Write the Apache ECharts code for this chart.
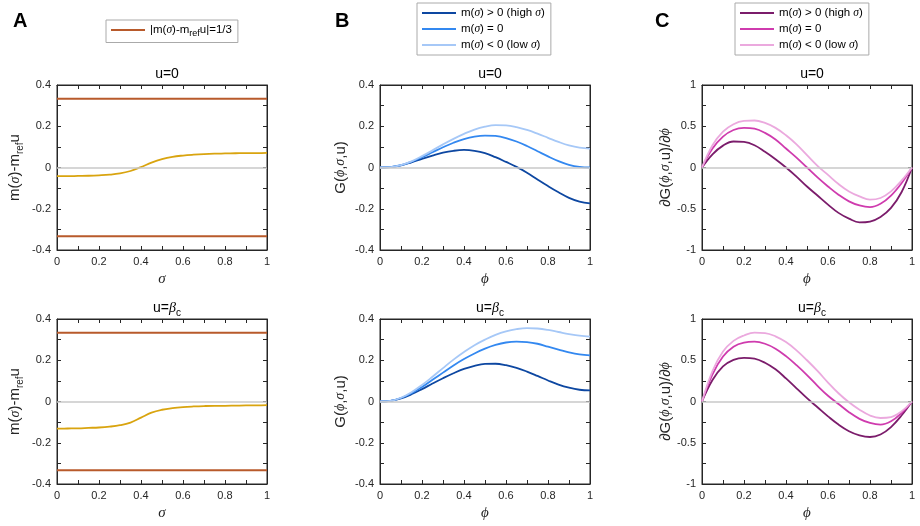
<!DOCTYPE html>
<html>
<head>
<meta charset="utf-8">
<script src="https://cdn.jsdelivr.net/npm/echarts@6/dist/echarts.min.js"></script>
<style>
  html, body { margin: 0; padding: 0; background: #fff; }
  #main { width: 920px; height: 526px; }
</style>
</head>
<body>
<div id="main"></div>
<script>
// x samples (sigma for panel A, phi for B and C)
const sigma = [0, 0.05, 0.1, 0.15, 0.2, 0.25, 0.3, 0.35, 0.4, 0.45, 0.5, 0.55, 0.6, 0.65, 0.7, 0.75, 0.8, 0.85, 0.9, 0.95, 1];
const phi = [0, 0.05, 0.1, 0.15, 0.2, 0.25, 0.3, 0.35, 0.4, 0.45, 0.5, 0.55, 0.6, 0.65, 0.7, 0.75, 0.8, 0.85, 0.9, 0.95, 1];

// panel A: m(sigma) - m_ref u
const mDiffU0 = [-0.042, -0.042, -0.041, -0.040, -0.038, -0.035, -0.029, -0.017, 0.002, 0.024, 0.041, 0.052, 0.058, 0.062, 0.065, 0.067, 0.068, 0.069, 0.070, 0.070, 0.071];
const mDiffBeta = [-0.132, -0.131, -0.130, -0.128, -0.126, -0.122, -0.115, -0.102, -0.078, -0.054, -0.040, -0.032, -0.027, -0.024, -0.022, -0.021, -0.021, -0.020, -0.019, -0.019, -0.018];
const threshold = 1 / 3;

// panel B: G(phi, sigma, u)
const gU0Hi = [0, 0.002, 0.010, 0.025, 0.042, 0.058, 0.072, 0.081, 0.085, 0.081, 0.070, 0.050, 0.027, 0.003, -0.025, -0.058, -0.090, -0.120, -0.147, -0.165, -0.174];
const gU0Mid = [0, 0.002, 0.011, 0.028, 0.050, 0.074, 0.098, 0.120, 0.138, 0.150, 0.155, 0.153, 0.143, 0.126, 0.104, 0.079, 0.054, 0.031, 0.013, 0.003, 0];
const gU0Lo = [0, 0.002, 0.012, 0.030, 0.055, 0.083, 0.112, 0.139, 0.163, 0.184, 0.198, 0.205, 0.204, 0.196, 0.182, 0.164, 0.144, 0.124, 0.107, 0.096, 0.092];
const gBetaHi = [0, 0.003, 0.015, 0.035, 0.060, 0.087, 0.113, 0.137, 0.158, 0.173, 0.182, 0.183, 0.176, 0.163, 0.145, 0.124, 0.102, 0.082, 0.067, 0.057, 0.054];
const gBetaMid = [0, 0.003, 0.017, 0.040, 0.070, 0.105, 0.140, 0.175, 0.206, 0.233, 0.256, 0.274, 0.286, 0.290, 0.288, 0.280, 0.266, 0.252, 0.238, 0.228, 0.224];
const gBetaLo = [0, 0.003, 0.018, 0.045, 0.080, 0.120, 0.162, 0.203, 0.240, 0.273, 0.300, 0.323, 0.340, 0.351, 0.356, 0.354, 0.347, 0.337, 0.327, 0.319, 0.315];

// panel C: dG/dphi
const dgU0Hi = [0, 0.16, 0.265, 0.315, 0.31, 0.27, 0.19, 0.10, 0.0, -0.11, -0.23, -0.34, -0.45, -0.55, -0.62, -0.665, -0.655, -0.60, -0.49, -0.30, 0];
const dgU0Mid = [0, 0.23, 0.375, 0.455, 0.48, 0.47, 0.42, 0.34, 0.23, 0.12, 0.0, -0.12, -0.23, -0.33, -0.41, -0.46, -0.48, -0.44, -0.34, -0.19, 0];
const dgU0Lo = [0, 0.27, 0.435, 0.525, 0.565, 0.57, 0.54, 0.48, 0.39, 0.28, 0.15, 0.02, -0.09, -0.20, -0.29, -0.35, -0.39, -0.37, -0.29, -0.16, 0];
const dgBetaHi = [0, 0.26, 0.425, 0.505, 0.53, 0.52, 0.47, 0.39, 0.28, 0.16, 0.04, -0.07, -0.18, -0.28, -0.36, -0.41, -0.43, -0.40, -0.31, -0.17, 0];
const dgBetaMid = [0, 0.33, 0.545, 0.665, 0.715, 0.725, 0.70, 0.64, 0.55, 0.44, 0.32, 0.19, 0.07, -0.03, -0.13, -0.21, -0.26, -0.28, -0.24, -0.14, 0];
const dgBetaLo = [0, 0.37, 0.605, 0.735, 0.80, 0.835, 0.83, 0.79, 0.72, 0.62, 0.50, 0.37, 0.23, 0.10, -0.01, -0.10, -0.17, -0.20, -0.19, -0.12, 0];

const legendNames = {
  thr: '|m({i|σ})-m{sub|ref}u|=1/3',
  bHi: 'm({i|σ}) > 0 (high {i|σ})', bMid: 'm({i|σ}) = 0', bLo: 'm({i|σ}) < 0 (low {i|σ})',
  cHi: 'm({i|σ}) > 0 (high {i|σ})', cMid: 'm({i|σ}) = 0', cLo: 'm({i|σ}) < 0 (low {i|σ})'
};

const FONT = 'Liberation Sans';
const INK = '#262626';
const rich = {
  i: { fontFamily: 'Liberation Serif', fontStyle: 'italic', fontSize: 14 },
  ib: { fontFamily: 'Liberation Serif', fontStyle: 'italic', fontSize: 14 },
  subb: { fontSize: 10, padding: [10, 0, 0, 0] }
};

const lefts = [57, 380, 702];
const tops = [85, 319];
const W = 210, H = 165;

const grids = [], xAxes = [], yAxes = [], titles = [], series = [];

function zip(xs, ys) { return xs.map((x, k) => [x, ys[k]]); }

// one panel = grid + bottom/left axes + top/right tick-only axes
function addPanel(col, row, yMin, yMax, yInt, xName, yName, yNameGap) {
  const g = grids.length;
  grids.push({ left: lefts[col], top: tops[row], width: W, height: H, show: true, borderColor: INK, borderWidth: 1 });
  const tick = { inside: true, length: 4, lineStyle: { color: INK } };
  const minor = { show: true, splitNumber: 2, length: 4, lineStyle: { color: INK } };
  xAxes.push({
    gridIndex: g, type: 'value', min: 0, max: 1, interval: 0.2,
    axisLine: { onZero: false, lineStyle: { color: INK } }, axisTick: tick, minorTick: minor,
    splitLine: { show: false },
    axisLabel: { color: INK, fontSize: 11, fontFamily: FONT, margin: 6 },
    name: xName, nameLocation: 'middle', nameGap: 22,
    nameTextStyle: { color: INK, fontFamily: 'Liberation Serif', fontStyle: 'italic', fontSize: 15 }
  });
  xAxes.push({
    gridIndex: g, type: 'value', min: 0, max: 1, interval: 0.2, position: 'top',
    axisLine: { onZero: false, lineStyle: { color: INK } }, axisTick: tick, minorTick: minor,
    splitLine: { show: false }, axisLabel: { show: false }
  });
  yAxes.push({
    gridIndex: g, type: 'value', min: yMin, max: yMax, interval: yInt,
    axisLine: { onZero: false, lineStyle: { color: INK } }, axisTick: tick, minorTick: minor,
    splitLine: { show: false },
    axisLabel: { color: INK, fontSize: 11, fontFamily: FONT, margin: 6 },
    name: yName, nameLocation: 'middle', nameGap: yNameGap, nameRotate: 90,
    nameTextStyle: { color: INK, fontFamily: FONT, fontSize: 15, rich: rich }
  });
  yAxes.push({
    gridIndex: g, type: 'value', min: yMin, max: yMax, interval: yInt, position: 'right',
    axisLine: { onZero: false, lineStyle: { color: INK } }, axisTick: tick, minorTick: minor,
    splitLine: { show: false }, axisLabel: { show: false }
  });
  // grey zero reference line
  series.push({
    type: 'line', xAxisIndex: 2 * g, yAxisIndex: 2 * g, data: [], z: 1, silent: true,
    markLine: { silent: true, symbol: 'none', label: { show: false },
      lineStyle: { color: '#c8c8c8', type: 'solid', width: 1.5 }, data: [{ yAxis: 0 }] }
  });
  return 2 * g;
}

function addLine(ax, name, xs, ys, color) {
  series.push({
    type: 'line', name: name, xAxisIndex: ax, yAxisIndex: ax, data: zip(xs, ys),
    showSymbol: false, symbol: 'none', smooth: 0.4, z: 3,
    lineStyle: { color: color, width: 1.8 }, itemStyle: { color: color }
  });
}

const aLabel = 'm({i|σ})-m{subb|ref}u';
const bLabel = 'G({i|ϕ},{i|σ},u)';
const cLabel = '∂G({i|ϕ},{i|σ},u)/∂{i|ϕ}';

const yellow = '#D9A40F', orange = '#B85A2B';
const blues = ['#0D47A1', '#3388F0', '#A6C8F7'];
const pinks = ['#7B1C6B', '#CF3BAE', '#EBA9DE'];

// row 0: u = 0
let ax = addPanel(0, 0, -0.4, 0.4, 0.2, 'σ', aLabel, 32);
addLine(ax, 'thr', [0, 1], [threshold, threshold], orange);
addLine(ax, 'thr', [0, 1], [-threshold, -threshold], orange);
addLine(ax, 'mA0', sigma, mDiffU0, yellow);
ax = addPanel(1, 0, -0.4, 0.4, 0.2, 'ϕ', bLabel, 32);
addLine(ax, 'bHi', phi, gU0Hi, blues[0]);
addLine(ax, 'bMid', phi, gU0Mid, blues[1]);
addLine(ax, 'bLo', phi, gU0Lo, blues[2]);
ax = addPanel(2, 0, -1, 1, 0.5, 'ϕ', cLabel, 28);
addLine(ax, 'cHi', phi, dgU0Hi, pinks[0]);
addLine(ax, 'cMid', phi, dgU0Mid, pinks[1]);
addLine(ax, 'cLo', phi, dgU0Lo, pinks[2]);

// row 1: u = beta_c
ax = addPanel(0, 1, -0.4, 0.4, 0.2, 'σ', aLabel, 32);
addLine(ax, 'thr', [0, 1], [threshold, threshold], orange);
addLine(ax, 'thr', [0, 1], [-threshold, -threshold], orange);
addLine(ax, 'mA1', sigma, mDiffBeta, yellow);
ax = addPanel(1, 1, -0.4, 0.4, 0.2, 'ϕ', bLabel, 32);
addLine(ax, 'bHi', phi, gBetaHi, blues[0]);
addLine(ax, 'bMid', phi, gBetaMid, blues[1]);
addLine(ax, 'bLo', phi, gBetaLo, blues[2]);
ax = addPanel(2, 1, -1, 1, 0.5, 'ϕ', cLabel, 28);
addLine(ax, 'cHi', phi, dgBetaHi, pinks[0]);
addLine(ax, 'cMid', phi, dgBetaMid, pinks[1]);
addLine(ax, 'cLo', phi, dgBetaLo, pinks[2]);

// panel titles and letters
const letters = ['A', 'B', 'C'];
const letterX = [8, 330, 650];
letters.forEach((l, k) => titles.push({ text: l, left: letterX[k], top: 6,
  textStyle: { fontFamily: FONT, fontWeight: 'bold', fontSize: 20, color: '#000' } }));
lefts.forEach(l => {
  titles.push({ text: 'u=0', left: l + W / 2, top: 62, textAlign: 'center',
    textStyle: { fontFamily: FONT, fontSize: 14, fontWeight: 'normal', color: '#000' } });
  titles.push({ text: 'u={ib|β}{subb|c}', left: l + W / 2, top: 293, textAlign: 'center',
    textStyle: { fontFamily: FONT, fontSize: 14, fontWeight: 'normal', color: '#000', rich: rich } });
});

function legendBox(data, left, top) {
  return {
    data: data, left: left, top: top, orient: 'vertical',
    borderColor: '#aaaaaa', borderWidth: 1, borderRadius: 0, padding: [4, 6, 4, 5],
    icon: 'rect', itemWidth: 34, itemHeight: 2, itemGap: 4, selectedMode: false,
    formatter: n => legendNames[n],
    textStyle: { fontFamily: FONT, fontSize: 11.5, color: '#000', rich: {
      i: { fontFamily: 'Liberation Serif', fontStyle: 'italic', fontSize: 11.5 },
      sub: { fontSize: 9, padding: [8, 0, 0, 0] } } }
  };
}

const option = {
  animation: false,
  backgroundColor: '#fff',
  title: titles,
  legend: [
    legendBox(['thr'], 106, 20),
    legendBox(['bHi', 'bMid', 'bLo'], 417, 3),
    legendBox(['cHi', 'cMid', 'cLo'], 735, 3)
  ],
  grid: grids,
  xAxis: xAxes,
  yAxis: yAxes,
  series: series
};

const myChart = echarts.init(document.getElementById('main'));
myChart.setOption(option);
window.addEventListener('resize', () => myChart.resize());
</script>
</body>
</html>
